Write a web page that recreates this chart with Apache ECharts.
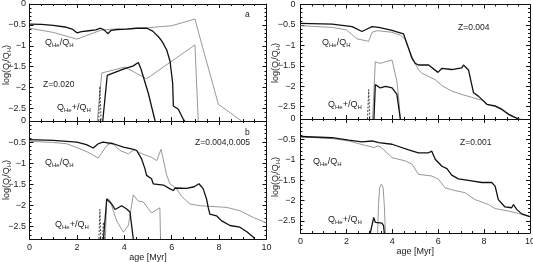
<!DOCTYPE html>
<html><head><meta charset="utf-8">
<script src="https://cdn.jsdelivr.net/npm/echarts@6/dist/echarts.min.js"></script>
<style>html,body{margin:0;padding:0;background:#fff}#c{width:533px;height:262px}</style>
</head><body><div id="c"></div>
<script>
// ---------- tick values ----------
const xTickStep = 2;
const yTickValues = [0, -0.5, -1, -1.5, -2, -2.5];
const yMinorValues = [-0.1,-0.2,-0.3,-0.4,-0.6,-0.7,-0.8,-0.9,-1.1,-1.2,-1.3,-1.4,-1.6,-1.7,-1.8,-1.9,-2.1,-2.2,-2.3,-2.4,-2.6,-2.7];

// ---------- panel a : Z=0.020 ----------
const heSolidA = [[0,-0.48],[0.5,-0.49],[1,-0.51],[1.5,-0.55],[1.8,-0.6],[2.0,-0.69],[2.2,-0.66],[2.5,-0.64],[2.8,-0.62],[3.0,-0.58],[3.15,-0.62],[3.3,-0.71],[3.45,-0.63],[3.7,-0.61],[4.1,-0.6],[4.5,-0.58],[4.95,-0.58],[5.2,-0.65],[5.45,-0.79],[5.6,-0.9],[5.79,-1.1],[5.93,-1.37],[6.04,-1.89],[6.07,-2.44],[6.28,-2.52],[6.49,-2.76],[6.55,-2.8]];
const heDotA = [[0,-0.58],[1,-0.68],[2.0,-0.84],[3.0,-0.63],[3.5,-0.6],[4.1,-0.6],[4.95,-0.57],[6.0,-0.52],[6.98,-0.36],[7.19,-0.8],[7.97,-2.4],[8.95,-2.8]];
const hepSolidA = [[3.09,-2.8],[3.28,-1.71],[3.96,-1.56],[4.38,-1.48],[4.59,-1.4],[4.7,-1.55],[5.01,-2.13],[5.3,-2.8]];
const hepDotA = [[2.86,-2.8],[3.05,-1.65],[4.03,-1.51],[4.94,-1.79],[6.98,-0.98],[7.12,-2.8]];
const spikeA = [[2.92,-2.8],[2.97,-1.97],[3.02,-2.8]];

// ---------- panel b : Z=0.004,0.005 ----------
const heSolidB = [[0,-0.44],[1,-0.46],[2,-0.5],[2.4,-0.56],[2.69,-0.64],[2.9,-0.54],[3.1,-0.5],[3.54,-0.54],[3.96,-0.62],[4.3,-0.66],[4.52,-0.7],[4.73,-0.9],[4.87,-1.13],[4.94,-1.29],[5.15,-1.37],[5.22,-1.49],[5.65,-1.52],[5.93,-1.61],[6.07,-1.65],[6.14,-1.59],[6.63,-1.6],[6.95,-1.56],[7.15,-1.49],[7.33,-1.61],[7.47,-1.85],[7.54,-2.05],[7.61,-2.21],[7.89,-2.25],[8.11,-2.37],[8.46,-2.48],[8.88,-2.52],[9.17,-2.63],[9.45,-2.76],[9.5,-2.8]];
const heDotB = [[0,-0.48],[1,-0.51],[1.57,-0.54],[2.13,-0.66],[2.5,-0.75],[2.9,-0.88],[3.26,-0.58],[3.47,-0.52],[3.82,-0.7],[4.17,-0.78],[4.45,-0.66],[4.59,-0.74],[4.94,-0.82],[5.15,-0.86],[5.37,-0.94],[5.55,-0.67],[5.79,-1.29],[5.93,-1.49],[6.21,-1.61],[6.42,-1.79],[6.77,-1.97],[7.2,-2.01],[8.32,-2.05],[8.88,-2.13],[9.45,-2.29],[10,-2.42]];
const hepSolidB = [[3.12,-2.8],[3.26,-1.85],[3.47,-1.97],[3.61,-2.1],[3.89,-2.01],[4.1,-2.09],[4.24,-2.16],[4.38,-2.8]];
const hepDotB = [[3.2,-2.8],[3.26,-1.84],[3.4,-1.89],[3.68,-2.37],[3.96,-2.64],[4.17,-2.48],[4.38,-1.75],[4.59,-1.9],[4.8,-1.92],[5.15,-2.18],[5.5,-2.06],[5.53,-2.8]];
const spikeB = [[2.93,-2.8],[2.97,-2.1],[3.01,-2.8],[3.04,'-'],[3.08,-2.8],[3.12,-2.4],[3.16,-2.8]];

// ---------- panel c : Z=0.004 ----------
const heSolidC = [[0,-0.46],[1.38,-0.48],[2.25,-0.54],[2.68,-0.66],[2.9,-0.6],[3.12,-0.54],[3.41,-0.56],[3.99,-0.63],[4.2,-0.67],[4.49,-0.72],[4.64,-0.96],[4.86,-1.32],[5.0,-1.44],[5.14,-1.48],[5.58,-1.48],[5.99,-1.66],[6.16,-1.56],[6.59,-1.59],[7.03,-1.55],[7.1,-1.48],[7.32,-1.6],[7.54,-2.16],[7.75,-2.24],[7.9,-2.32],[8.12,-2.44],[8.48,-2.48],[8.77,-2.56],[9.06,-2.68],[9.28,-2.74],[9.5,-2.8]];
const heDotC = [[0,-0.52],[1.38,-0.56],[2.0,-0.62],[2.46,-0.84],[2.97,-0.9],[3.12,-0.68],[3.33,-0.64],[3.99,-0.68],[4.35,-0.75],[4.55,-0.85],[4.86,-1.28],[5.14,-1.6],[5.29,-1.68],[5.87,-1.84],[6.16,-1.98],[6.59,-2.12],[7.03,-2.2],[7.46,-2.27],[7.9,-2.34],[8.19,-2.46],[8.48,-2.5],[8.77,-2.58],[9.06,-2.7],[9.3,-2.76],[9.6,-2.8]];
const hepSolidC = [[3.2,-2.8],[3.26,-1.96],[3.48,-2.04],[3.7,-2.0],[3.99,-2.04],[4.2,-2.2],[4.35,-2.8]];
const hepDotC = [[3.14,-2.8],[3.26,-1.4],[3.48,-1.44],[3.7,-1.4],[3.99,-1.36],[4.2,-1.88],[4.28,-2.3],[4.35,-2.8]];
const spikeC = [[2.92,-2.8],[2.97,-2.08],[3.02,-2.8]];

// ---------- panel d : Z=0.001 ----------
const heSolidD = [[0,-0.43],[1.38,-0.46],[2.1,-0.52],[2.68,-0.56],[3.12,-0.54],[3.41,-0.58],[3.99,-0.62],[4.71,-0.76],[5.14,-0.83],[5.58,-0.83],[5.72,-0.79],[5.87,-0.99],[6.16,-1.16],[6.38,-1.22],[6.59,-1.38],[6.88,-1.47],[7.46,-1.52],[7.9,-1.56],[8.33,-1.56],[8.48,-1.65],[8.62,-1.98],[8.91,-2.16],[9.2,-2.18],[9.28,-2.1],[9.42,-2.22],[9.64,-2.33],[10,-2.4]];
const heDotD = [[0,-0.44],[1.38,-0.48],[2.1,-0.54],[2.83,-0.65],[3.19,-0.7],[3.41,-0.66],[3.62,-0.75],[3.99,-0.95],[4.57,-1.03],[4.86,-1.11],[5.14,-1.36],[5.72,-1.4],[6.01,-1.48],[6.3,-1.69],[6.67,-1.75],[7.17,-1.81],[7.61,-1.98],[8.19,-2.1],[8.48,-2.2],[9.06,-2.26],[9.49,-2.32],[10,-2.4]];
const hepSolidD = [[3.04,-2.8],[3.19,-2.42],[3.26,-2.54],[3.55,-2.56],[3.62,-2.62],[3.65,-2.8]];
const hepDotD = [[3.36,-2.8],[3.4,-2.1],[3.45,-1.69],[3.52,-1.6],[3.6,-1.69],[3.65,-2.1],[3.7,-2.8]];
const spikeD = [];

// ---------- layout ----------
const FONT = 'Liberation Sans';
const INK = '#222';
const grids = [
  {left: 29.5, top: 4, width: 237, height: 117},
  {left: 29.5, top: 121, width: 237, height: 118},
  {left: 300.5, top: 4.5, width: 229.5, height: 114.5},
  {left: 300.5, top: 119, width: 229.5, height: 114}
];
const bottomPanel = [false, true, false, true];
const labelMargin = [3.5, 3.5, 5, 5];
const nameGaps = [0, 13, 0, 9];
const panelData = [
  [heDotA, heSolidA, hepDotA, hepSolidA, spikeA],
  [heDotB, heSolidB, hepDotB, hepSolidB, spikeB],
  [heDotC, heSolidC, hepDotC, hepSolidC, spikeC],
  [heDotD, heSolidD, hepDotD, hepSolidD, spikeD]
];

const lineAx = {show: true, onZero: false, lineStyle: {color: '#111', width: 1}};
const xAxes = [], yAxes = [], series = [];
grids.forEach((g, i) => {
  const xBase = {
    type: 'value', gridIndex: i, min: 0, max: 10, interval: xTickStep,
    axisLine: lineAx, splitLine: {show: false},
    axisTick: {show: true, inside: true, length: 4, lineStyle: {color: '#111'}},
    minorTick: {show: true, splitNumber: 4, length: 2, lineStyle: {color: '#111'}}
  };
  xAxes.push(Object.assign({}, xBase, {
    position: 'bottom',
    axisLabel: {show: bottomPanel[i], margin: 4, fontFamily: FONT, fontSize: 9, color: INK},
    name: bottomPanel[i] ? 'age [Myr]' : '', nameLocation: 'middle', nameGap: nameGaps[i],
    nameTextStyle: {fontFamily: FONT, fontSize: 9, color: INK}
  }));
  xAxes.push(Object.assign({}, xBase, {position: 'top', axisLabel: {show: false}}));
  const yBase = {type: 'value', gridIndex: i, min: -2.8, max: 0, splitLine: {show: false}};
  const major = (pos, lbl) => Object.assign({}, yBase, {
    position: pos, axisLine: lineAx,
    axisTick: {show: true, inside: true, length: 4, customValues: yTickValues, lineStyle: {color: '#111'}},
    axisLabel: lbl ? {show: true, margin: labelMargin[i], customValues: yTickValues, fontFamily: FONT, fontSize: 9, color: INK,
      formatter: v => v === 0 ? '0' : '\u2212' + String(Math.abs(v))} : {show: false}
  });
  const minor = (pos) => Object.assign({}, yBase, {
    position: pos, axisLine: {show: false, onZero: false},
    axisTick: {show: true, inside: true, length: 2, customValues: yMinorValues, lineStyle: {color: '#111'}},
    axisLabel: {show: false}
  });
  yAxes.push(major('left', true), minor('left'), major('right', false), minor('right'));
  const [hd, hs, pd, ps, sp] = panelData[i];
  const base = {type: 'line', xAxisIndex: 2 * i, yAxisIndex: 4 * i, symbol: 'none', clip: true, silent: true, animation: false, connectNulls: false};
  const dotStyle = {color: '#8c8c8c', width: 0.9};
  const solStyle = {color: '#111', width: 1.3};
  series.push(Object.assign({}, base, {data: hd, lineStyle: dotStyle, z: 2}));
  series.push(Object.assign({}, base, {data: pd, lineStyle: dotStyle, z: 2}));
  series.push(Object.assign({}, base, {data: hs, lineStyle: solStyle, z: 3}));
  series.push(Object.assign({}, base, {data: ps, lineStyle: solStyle, z: 3}));
  if (sp.length) series.push(Object.assign({}, base, {data: sp, lineStyle: {color: '#444', width: 1, type: [2, 1.5]}, z: 3}));
});

// ---------- annotations ----------
const rich = {
  m: {fontFamily: FONT, fontSize: 9, fill: INK},
  s: {fontFamily: FONT, fontSize: 6, fill: INK, padding: [5, 0, 0, 0]}
};
const qHe = '{m|Q}{s|He}{m|/Q}{s|H}';
const qHep = '{m|Q}{s|He}{m|+/Q}{s|H}';
const yTitle = '{m|log(Q}{s|i}{m|/Q}{s|H}{m|)}';
const txt = (x, y, text, extra) => Object.assign({type: 'text', x: x, y: y, silent: true,
  style: Object.assign({text: text, rich: rich, fontFamily: FONT, fontSize: 8.5, fill: INK, align: 'left', verticalAlign: 'middle'}, extra || {})});
const graphic = [
  txt(45, 43, qHe), txt(43, 85, 'Z=0.020'), txt(57, 108, qHep), txt(245, 15, 'a'),
  txt(45, 163, qHe), txt(245, 133, 'b'), txt(195, 143, 'Z=0.004,0.005'), txt(55, 225, qHep),
  txt(322, 43, qHe), txt(458, 28, 'Z=0.004'), txt(328, 105, qHep),
  txt(313, 162, qHe), txt(460, 143, 'Z=0.001'), txt(328, 220, qHep)
];
[[7, 65], [7, 180], [276, 63], [276, 177]].forEach(p => {
  graphic.push({type: 'text', x: p[0], y: p[1], rotation: Math.PI / 2, silent: true,
    style: {text: yTitle, rich: rich, align: 'center', verticalAlign: 'middle'}});
});

const chart = echarts.init(document.getElementById('c'), null, {renderer: 'canvas'});
chart.setOption({
  backgroundColor: '#fff',
  animation: false,
  grid: grids.map(g => Object.assign({outerBoundsMode: 'none', containLabel: false, show: false}, g)),
  xAxis: xAxes,
  yAxis: yAxes,
  series: series,
  graphic: graphic
});
</script>
</body></html>
